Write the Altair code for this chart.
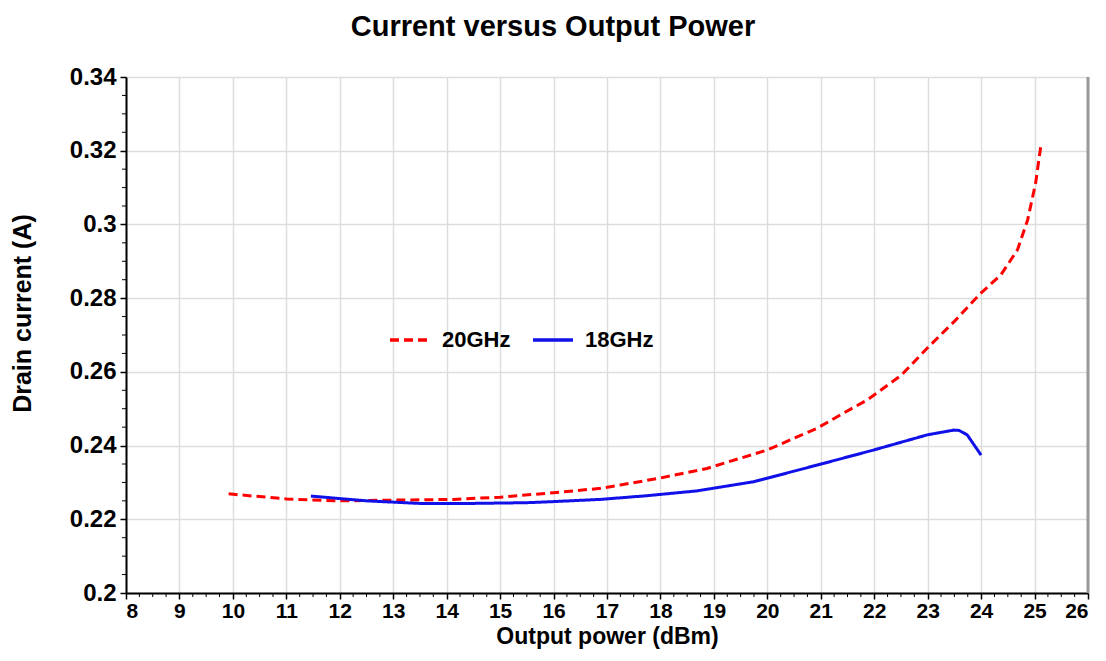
import altair as alt
import pandas as pd

# 20GHz series (red dashed)
x20 = [9.92, 11.01, 11.95, 13.0, 14.13, 15.0, 16.0, 16.88, 17.25, 18.0, 18.87, 20.0,
       20.93, 21.56, 21.87, 22.5, 22.99, 23.5, 23.99, 24.37, 24.68, 24.87, 25.02, 25.12]
y20 = [0.2269, 0.2255, 0.2250, 0.2252, 0.2254, 0.2260, 0.2272, 0.2284, 0.2293, 0.2312, 0.2338, 0.2388,
       0.2447, 0.2499, 0.2524, 0.2590, 0.2664, 0.2737, 0.2813, 0.2863, 0.2931, 0.3012, 0.3112, 0.3216]

# 18GHz series (blue solid)
x18 = [11.46, 12.5, 13.5, 14.44, 15.5, 16.0, 16.88, 17.75, 18.68, 19.75, 20.93, 21.99,
       22.99, 23.49, 23.59, 23.74, 24.0]
y18 = [0.2263, 0.2250, 0.2243, 0.2243, 0.2245, 0.2248, 0.2254, 0.2264, 0.2277, 0.2302, 0.2347, 0.2388,
       0.2429, 0.2442, 0.2441, 0.2429, 0.2374]

series_names = ["20GHz", "18GHz"]
x_ticks = list(range(8, 27))
y_ticks = [0.2, 0.22, 0.24, 0.26, 0.28, 0.3, 0.32, 0.34]
x_minor = [8 + i * 0.25 for i in range(73) if i % 4 != 0]
y_minor = [round(0.2 + i * 0.005, 3) for i in range(29) if i % 4 != 0]

df = pd.DataFrame(
    [{"x": a, "y": b, "s": "20GHz", "o": i} for i, (a, b) in enumerate(zip(x20, y20))]
    + [{"x": a, "y": b, "s": "18GHz", "o": i} for i, (a, b) in enumerate(zip(x18, y18))]
)

FONT = "Liberation Sans"
xs = alt.Scale(domain=[8, 26], nice=False)
ys = alt.Scale(domain=[0.2, 0.34], nice=False, zero=False)

lines = alt.Chart(df).mark_line(strokeWidth=3, clip=True).encode(
    x=alt.X("x:Q", scale=xs, title="Output power (dBm)",
            axis=alt.Axis(values=x_ticks, format="d", titlePadding=4, titleFontSize=23,
                          labelFontSize=21, labelPadding=1)),
    y=alt.Y("y:Q", scale=ys, title="Drain current (A)",
            axis=alt.Axis(values=y_ticks, format=".2~f", titleX=-104, titleY=236,
                          titleBaseline="middle")),
    order="o:Q",
    color=alt.Color("s:N", scale=alt.Scale(domain=series_names, range=["#ff0000", "#1010e8"]),
                    title=None,
                    legend=alt.Legend(orient="none", legendX=262, legendY=241, direction="horizontal",
                                      symbolType="stroke", symbolSize=1600, symbolStrokeWidth=3.5,
                                      labelFont=FONT, labelFontWeight="bold", labelFontSize=22,
                                      columnPadding=15, labelOffset=10)),
    strokeDash=alt.StrokeDash("s:N", scale=alt.Scale(domain=series_names, range=[[9, 5], [1, 0]]),
                              legend=None),
)

border = alt.Chart(pd.DataFrame({"v": [26]})).mark_rule(color="#999999", strokeWidth=3).encode(
    x=alt.X("v:Q", scale=xs)
)

ymin = alt.Chart(pd.DataFrame({"m": y_minor})).mark_rule(color="#000000", strokeWidth=1).encode(
    y=alt.Y("m:Q", scale=ys), x=alt.value(-4), x2=alt.value(0)
)
xmin = alt.Chart(pd.DataFrame({"m": x_minor})).mark_rule(color="#000000", strokeWidth=1).encode(
    x=alt.X("m:Q", scale=xs), y=alt.value(516), y2=alt.value(520)
)

chart = alt.layer(lines, border, ymin, xmin).properties(
    width=962, height=516,
    title=alt.Title("Current versus Output Power", font=FONT, fontSize=29, fontWeight="bold",
                    color="#000000", offset=23, dx=-54),
    autosize=alt.AutoSizeParams(type="none"),
    padding={"left": 118, "top": 69, "right": 10, "bottom": 60},
).configure_view(stroke=None).configure_axis(
    labelFont=FONT, labelFontWeight="bold", labelFontSize=24, labelColor="#000000",
    titleFont=FONT, titleFontWeight="bold", titleFontSize=25, titleColor="#000000",
    domainColor="#000000", domainWidth=2, tickColor="#000000", tickWidth=1.5, tickSize=6,
    gridColor="#dddddd", gridWidth=1.5, labelPadding=3,
).configure_axisY(labelPadding=4)

chart.save("out.html", embed_options={"renderer": "svg", "actions": False})
